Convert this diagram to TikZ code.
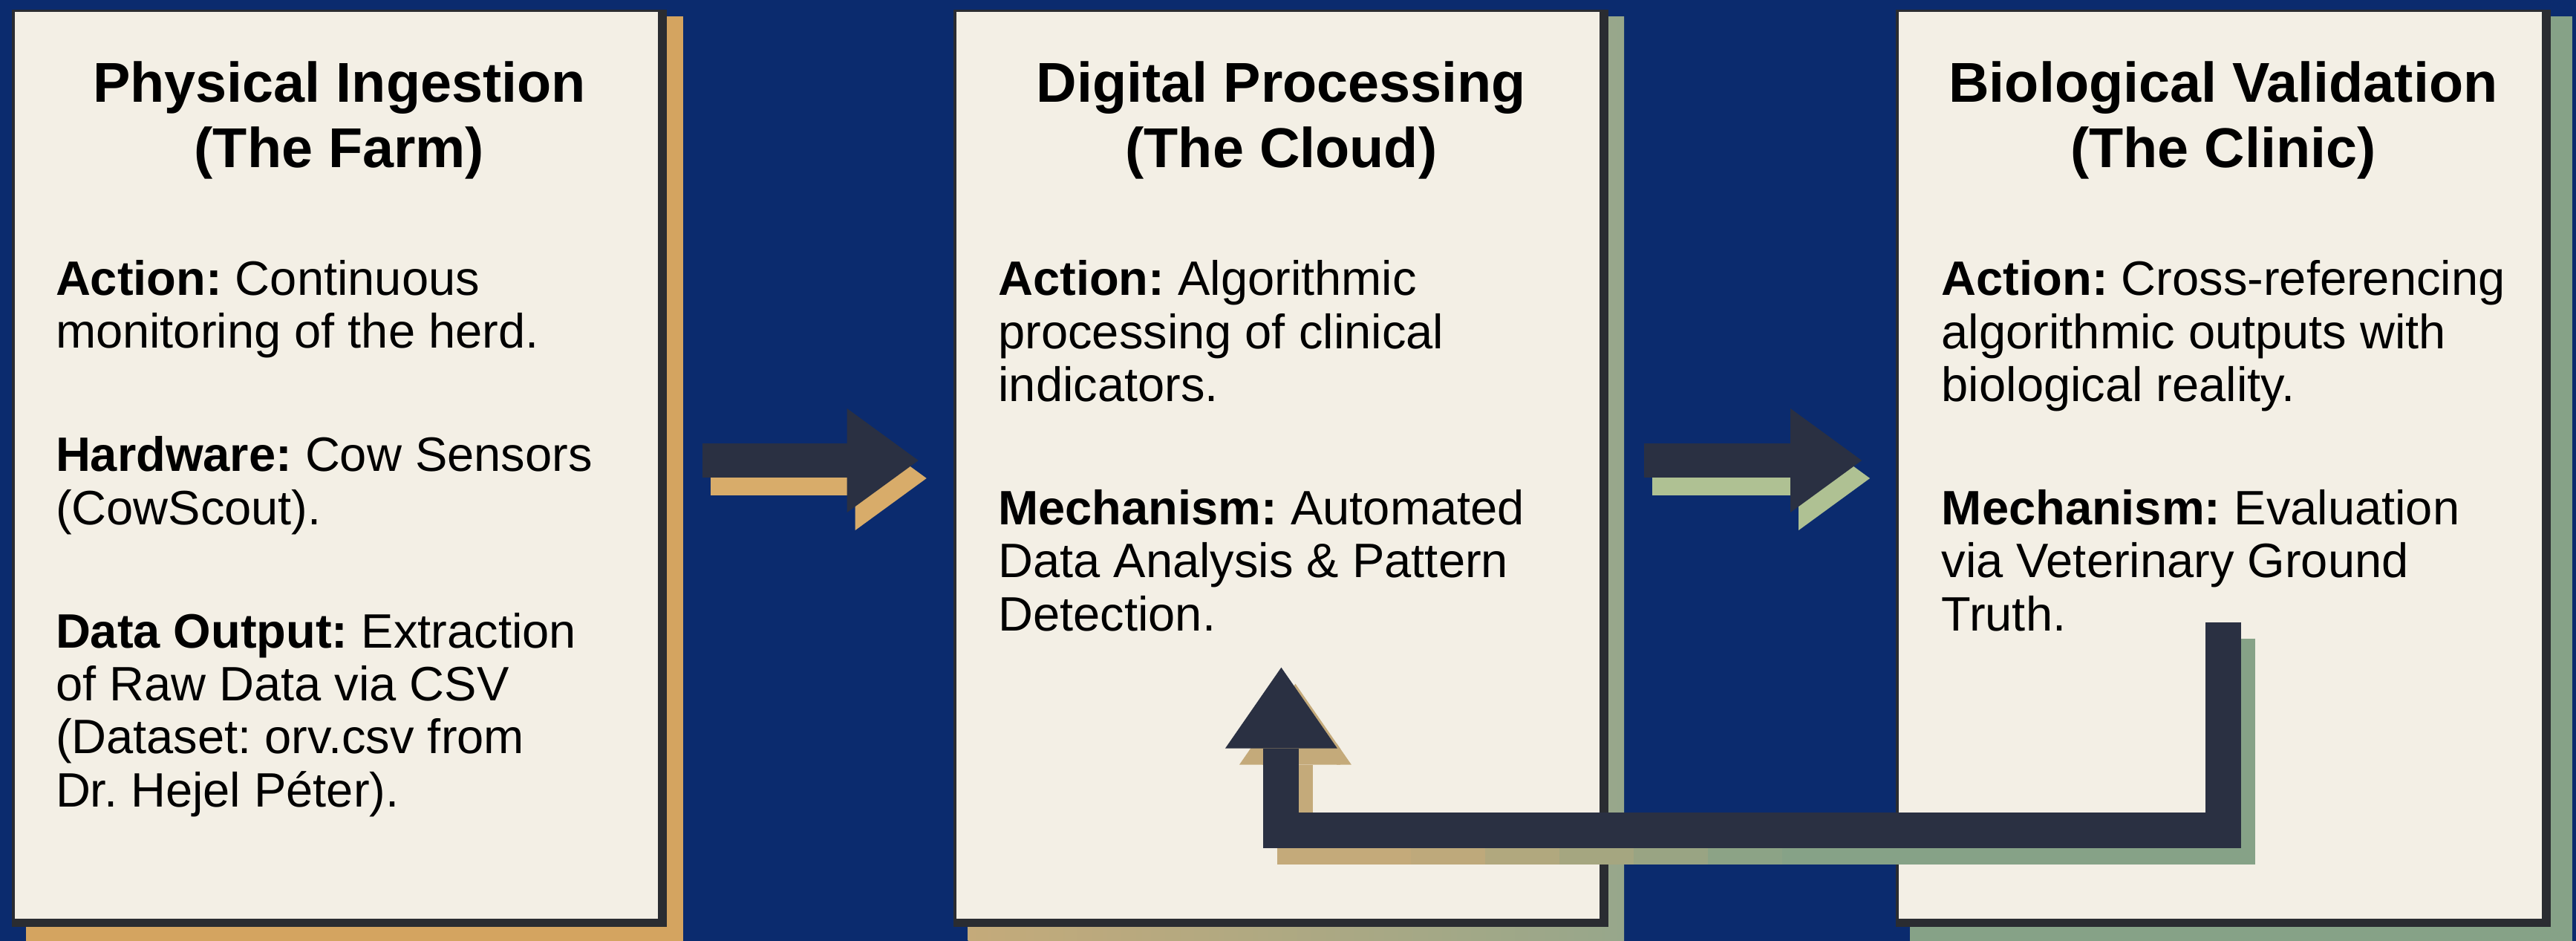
\documentclass[tikz,border=0pt]{standalone}
\usepackage{fontspec}
\setmainfont{Liberation Sans}
\usepackage{tikz}
\usetikzlibrary{positioning,calc,arrows.meta}

\definecolor{bgblue}{HTML}{0B2B6E}
\definecolor{paper}{HTML}{F3EFE5}
\definecolor{edge}{HTML}{2A2C31}
\definecolor{ink}{HTML}{2A3042}
\definecolor{farmtan}{HTML}{D4A460}
\definecolor{cloudtan}{HTML}{C4AA7A}
\definecolor{cloudgreen}{HTML}{97A78B}
\definecolor{clinicgreen}{HTML}{86A287}
\definecolor{arrowtan}{HTML}{D8AC6A}
\definecolor{arrowgreen}{HTML}{AFC193}

\pgfdeclarelayer{back}
\pgfdeclarelayer{shade}
\pgfsetlayers{back,shade,main}

\begin{document}
\begin{tikzpicture}[
    stage/.style = {rectangle, minimum width=8.82cm, minimum height=12.35cm, inner sep=0pt, fill=edge,
        path picture={\fill[paper] ([shift={(0.04, -0.03)}]path picture bounding box.north west) rectangle ([shift={(-0.12, 0.11)}]path picture bounding box.south east);}},
    heading/.style = {align=center, inner sep=0pt, font={\fontsize{21.5}{25}\selectfont\bfseries}},
    detail/.style = {align=left, inner sep=0pt, font={\fontsize{18.5}{20.3}\selectfont\frenchspacing}},
    flowarrow/.style = {line width=0.46cm, -{Triangle[length=0.96cm 0 0, width=1.4cm 0 0, line width=0pt 0 0]}},
    feedback/.style = {line width=0.48cm, -{Triangle[length=1.09cm 0 0, width=1.51cm 0 0, line width=0pt 0 0]}}
]
    \useasboundingbox (0, 0) rectangle (34.69, 12.67);
    \begin{pgfonlayer}{back}
        \fill[bgblue] (0, 0) rectangle (34.69, 12.67);
    \end{pgfonlayer}

    % three stages
    \node[stage] (farm) at (4.57, 6.365) {};
    \node[stage, right=3.85cm of farm] (cloud) {};
    \node[stage, right=3.85cm of cloud] (clinic) {};

    \begin{pgfonlayer}{shade}
        \fill[farmtan] ([shift={(0.2, -0.1)}]farm.north west) rectangle ([shift={(0.21, -0.25)}]farm.south east);
        \shade[left color=cloudtan, right color=cloudgreen] ([shift={(0.2, -0.1)}]cloud.north west) rectangle ([shift={(0.2, -0.25)}]cloud.south east);
        \fill[clinicgreen] ([shift={(0.2, -0.1)}]clinic.north west) rectangle ([shift={(0.28, -0.25)}]clinic.south east);
    \end{pgfonlayer}

    % base anchor sits on the last line
    \node[heading, anchor=base] (farmtitle) at ([yshift=-2.13cm]farm.north) {Physical Ingestion\\(The Farm)};
    \node[heading, anchor=base] (cloudtitle) at ([yshift=-2.13cm]cloud.north) {Digital Processing\\(The Cloud)};
    \node[heading, anchor=base] (clinictitle) at ([yshift=-2.13cm]clinic.north) {Biological Validation\\(The Clinic)};

    \node[detail, anchor=base west] (farmtext) at ([shift={(0.59, -10.74)}]farm.north west) {\textbf{Action:} Continuous\\monitoring of the herd.\\[27pt]\textbf{Hardware:} Cow Sensors\\(CowScout).\\[27pt]\textbf{Data Output:} Extraction\\of Raw Data via CSV\\(Dataset: orv.csv from\\Dr. Hejel Péter).};
    \node[detail, anchor=base west] (cloudtext) at ([shift={(0.6, -8.37)}]cloud.north west) {\textbf{Action:} Algorithmic\\processing of clinical\\indicators.\\[27pt]\textbf{Mechanism:} Automated\\Data Analysis \& Pattern\\Detection.};
    \node[detail, anchor=base west] (clinictext) at ([shift={(0.62, -8.37)}]clinic.north west) {\textbf{Action:} Cross-referencing\\algorithmic outputs with\\biological reality.\\[27pt]\textbf{Mechanism:} Evaluation\\via Veterinary Ground\\Truth.};

    % forward arrows
    \coordinate (go1) at ([shift={(0.47, 0.105)}]farm.east);
    \coordinate (stop1) at ([shift={(-0.47, 0.105)}]cloud.west);
    \coordinate (go2) at ([shift={(0.47, 0.105)}]cloud.east);
    \coordinate (stop2) at ([shift={(-0.45, 0.105)}]clinic.west);
    \draw[flowarrow, draw=arrowtan] ([shift={(0.11, -0.24)}]go1) -- ([shift={(0.11, -0.24)}]stop1);
    \draw[flowarrow, draw=ink] (go1) -- (stop1);
    \draw[flowarrow, draw=arrowgreen] ([shift={(0.11, -0.24)}]go2) -- ([shift={(0.11, -0.24)}]stop2);
    \draw[flowarrow, draw=ink] (go2) -- (stop2);

    % feedback from the clinic back to the cloud
    \coordinate (fbtop) at ([yshift=4.11cm]clinic.south);
    \coordinate (fbbend) at ([yshift=1.31cm]cloud.south);
    \coordinate (fbtip) at ([yshift=3.5cm]cloud.south);
    \foreach \k in {0,...,14} {
        \pgfmathtruncatemacro{\mix}{max(0, min(100, 100*(24 - 16.5 - \k)/5))}
        \begin{scope}
            \clip (16 + \k, 0) rectangle (17.05 + \k, 12.67);
            \draw[feedback, draw=cloudtan!\mix!clinicgreen] ([shift={(0.19, -0.22)}]fbtop) |- ([shift={(0.19, -0.22)}]fbbend) -- ([shift={(0.19, -0.22)}]fbtip);
        \end{scope}
    }
    \draw[feedback, draw=ink] (fbtop) |- (fbbend) -- (fbtip);
\end{tikzpicture}
\end{document}
